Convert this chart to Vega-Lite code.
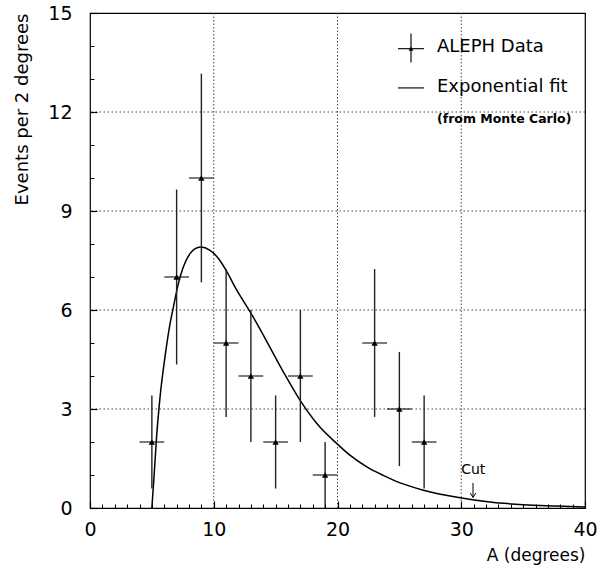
{
  "$schema": "https://vega.github.io/schema/vega-lite/v6.json",
  "width": 495,
  "height": 495,
  "autosize": {"type": "none"},
  "padding": {"left": 90, "top": 13, "right": 12, "bottom": 70},
  "background": "white",
  "config": {
    "font": "DejaVu Sans",
    "view": {"stroke": "black", "strokeWidth": 1.2, "fill": null},
    "axis": {
      "zindex": 2,
      "domain": false,
      "grid": false,
      "ticks": true,
      "tickColor": "#000000",
      "tickOpacity": 1,
      "tickWidth": 1,
      "labelColor": "black",
      "labelFont": "DejaVu Sans",
      "labelFontSize": 19,
      "labelOverlap": false,
      "labelBound": false,
      "labelFlush": false,
      "titleColor": "black",
      "titleFont": "DejaVu Sans",
      "titleFontWeight": "normal"
    }
  },
  "resolve": {"axis": {"x": "independent", "y": "independent"}},
  "datasets": {
    "aleph": [
      {"x": 5, "y": 2, "xlo": 4, "xhi": 6, "ylo": 0.59, "yhi": 3.41},
      {"x": 7, "y": 7, "xlo": 6, "xhi": 8, "ylo": 4.35, "yhi": 9.65},
      {"x": 9, "y": 10, "xlo": 8, "xhi": 10, "ylo": 6.84, "yhi": 13.16},
      {"x": 11, "y": 5, "xlo": 10, "xhi": 12, "ylo": 2.76, "yhi": 7.24},
      {"x": 13, "y": 4, "xlo": 12, "xhi": 14, "ylo": 2, "yhi": 6},
      {"x": 15, "y": 2, "xlo": 14, "xhi": 16, "ylo": 0.59, "yhi": 3.41},
      {"x": 17, "y": 4, "xlo": 16, "xhi": 18, "ylo": 2, "yhi": 6},
      {"x": 19, "y": 1, "xlo": 18, "xhi": 20, "ylo": 0, "yhi": 2},
      {"x": 23, "y": 5, "xlo": 22, "xhi": 24, "ylo": 2.76, "yhi": 7.24},
      {"x": 25, "y": 3, "xlo": 24, "xhi": 26, "ylo": 1.27, "yhi": 4.73},
      {"x": 27, "y": 2, "xlo": 26, "xhi": 28, "ylo": 0.59, "yhi": 3.41}
    ],
    "fit": [
      {"x": 5, "y": 0}, {"x": 5.2, "y": 1.1}, {"x": 5.38, "y": 2.15}, {"x": 5.66, "y": 3.36},
      {"x": 6.06, "y": 4.58}, {"x": 6.47, "y": 5.59}, {"x": 6.74, "y": 6.09}, {"x": 7.14, "y": 6.8},
      {"x": 7.54, "y": 7.3}, {"x": 8.08, "y": 7.71}, {"x": 8.5, "y": 7.86}, {"x": 8.94, "y": 7.91},
      {"x": 9.7, "y": 7.81}, {"x": 10.38, "y": 7.56}, {"x": 11.0, "y": 7.2}, {"x": 11.86, "y": 6.6},
      {"x": 12.93, "y": 5.95}, {"x": 13.74, "y": 5.42}, {"x": 14.28, "y": 5.05}, {"x": 15.63, "y": 4.12},
      {"x": 16.98, "y": 3.26}, {"x": 18.33, "y": 2.56}, {"x": 19.95, "y": 1.95}, {"x": 21, "y": 1.6},
      {"x": 22.4, "y": 1.24}, {"x": 23.7, "y": 0.99}, {"x": 25.06, "y": 0.76}, {"x": 26.94, "y": 0.54},
      {"x": 29.9, "y": 0.31}, {"x": 32.3, "y": 0.18}, {"x": 35, "y": 0.1}, {"x": 37.7, "y": 0.06},
      {"x": 40, "y": 0.03}
    ],
    "vgrid": [{"x": 10}, {"x": 20}, {"x": 30}],
    "hgrid": [{"y": 3}, {"y": 6}, {"y": 9}, {"y": 12}],
    "legendCross": [{"x": 25.94, "y": 13.92, "xlo": 24.89, "xhi": 26.99, "ylo": 13.5, "yhi": 14.38}],
    "legendLine": [{"xlo": 24.89, "xhi": 26.99, "y": 12.73}],
    "legendText": [
      {"x": 28.04, "y": 13.96, "label": "ALEPH Data"},
      {"x": 28.04, "y": 12.76, "label": "Exponential fit"}
    ],
    "legendNote": [{"x": 28.04, "y": 11.78, "label": "(from Monte Carlo)"}],
    "cutText": [{"x": 30.97, "y": 1.16, "label": "Cut"}],
    "cutArrow": [{"x": 30.95, "ylo": 0.32, "yhi": 0.76}]
  },
  "layer": [
    {
      "data": {"name": "vgrid"},
      "mark": {"type": "rule", "color": "#444", "strokeDash": [1.5, 2], "strokeWidth": 1},
      "encoding": {
        "x": {
          "field": "x", "type": "quantitative",
          "scale": {"domain": [0, 40], "nice": false, "zero": false},
          "axis": {
            "orient": "bottom",
            "offset": -7,
            "zindex": 2,
            "title": "A (degrees)",
            "titleFontSize": 17,
            "titleAnchor": "end",
            "titleAlign": "right",
            "titleBaseline": "middle",
            "titleX": 495,
            "titleY": 54,
            "values": [0, 10, 20, 30, 40],
            "labelPadding": 12,
            "labelAngle": 0,
            "ticks": true,
            "tickSize": 7,
            "tickWidth": 1.2
          }
        }
      }
    },
    {
      "data": {"name": "hgrid"},
      "mark": {"type": "rule", "color": "#444", "strokeDash": [1.5, 2.5], "strokeWidth": 1},
      "encoding": {
        "y": {
          "field": "y", "type": "quantitative",
          "scale": {"domain": [0, 15], "nice": false, "zero": false},
          "axis": {
            "orient": "left",
            "offset": -7,
            "zindex": 2,
            "title": "Events per 2 degrees",
            "titleFontSize": 18,
            "titleAngle": -90,
            "titleAnchor": "end",
            "titleAlign": "right",
            "titleBaseline": "middle",
            "titleX": -75,
            "titleY": 0,
            "values": [0, 3, 6, 9, 12, 15],
            "labelPadding": 18,
            "ticks": true,
            "tickSize": 7,
            "tickWidth": 1.2
          }
        }
      }
    },
    {
      "data": {"name": "fit"},
      "mark": {"type": "line", "color": "black", "strokeWidth": 1.5, "interpolate": "monotone", "clip": true},
      "encoding": {
        "x": {
          "field": "x", "type": "quantitative",
          "axis": {
            "orient": "bottom",
            "offset": -4,
            "zindex": 2,
            "title": null,
            "labels": false,
            "values": [1,2,3,4,5,6,7,8,9,11,12,13,14,15,16,17,18,19,21,22,23,24,25,26,27,28,29,31,32,33,34,35,36,37,38,39],
            "ticks": true,
            "tickSize": 4
          }
        },
        "y": {
          "field": "y", "type": "quantitative",
          "axis": {
            "orient": "left",
            "offset": -4,
            "zindex": 2,
            "title": null,
            "labels": false,
            "values": [1,2,4,5,7,8,10,11,13,14],
            "ticks": true,
            "tickSize": 4
          }
        }
      }
    },
    {
      "data": {"name": "aleph"},
      "mark": {"type": "rule", "color": "#222", "strokeWidth": 1.4},
      "encoding": {
        "x": {"field": "x", "type": "quantitative", "axis": null},
        "y": {"field": "ylo", "type": "quantitative", "axis": null},
        "y2": {"field": "yhi"}
      }
    },
    {
      "data": {"name": "aleph"},
      "mark": {"type": "rule", "color": "#222", "strokeWidth": 1.2},
      "encoding": {
        "x": {"field": "xlo", "type": "quantitative", "axis": null},
        "x2": {"field": "xhi"},
        "y": {"field": "y", "type": "quantitative", "axis": null}
      }
    },
    {
      "data": {"name": "aleph"},
      "mark": {"type": "point", "shape": "triangle-up", "filled": true, "color": "black", "size": 40, "opacity": 1},
      "encoding": {
        "x": {"field": "x", "type": "quantitative", "axis": null},
        "y": {"field": "y", "type": "quantitative", "axis": null}
      }
    },
    {
      "data": {"name": "legendCross"},
      "mark": {"type": "rule", "color": "#222", "strokeWidth": 1.3},
      "encoding": {
        "x": {"field": "xlo", "type": "quantitative", "axis": null},
        "x2": {"field": "xhi"},
        "y": {"field": "y", "type": "quantitative", "axis": null}
      }
    },
    {
      "data": {"name": "legendCross"},
      "mark": {"type": "rule", "color": "#222", "strokeWidth": 1.3},
      "encoding": {
        "x": {"field": "x", "type": "quantitative", "axis": null},
        "y": {"field": "ylo", "type": "quantitative", "axis": null},
        "y2": {"field": "yhi"}
      }
    },
    {
      "data": {"name": "legendCross"},
      "mark": {"type": "point", "shape": "triangle-up", "filled": true, "color": "black", "size": 22, "opacity": 1},
      "encoding": {
        "x": {"field": "x", "type": "quantitative", "axis": null},
        "y": {"field": "y", "type": "quantitative", "axis": null}
      }
    },
    {
      "data": {"name": "legendLine"},
      "mark": {"type": "rule", "color": "#222", "strokeWidth": 1.3},
      "encoding": {
        "x": {"field": "xlo", "type": "quantitative", "axis": null},
        "x2": {"field": "xhi"},
        "y": {"field": "y", "type": "quantitative", "axis": null}
      }
    },
    {
      "data": {"name": "legendText"},
      "mark": {"type": "text", "align": "left", "baseline": "middle", "fontSize": 18, "font": "DejaVu Sans", "color": "black"},
      "encoding": {
        "x": {"field": "x", "type": "quantitative", "axis": null},
        "y": {"field": "y", "type": "quantitative", "axis": null},
        "text": {"field": "label"}
      }
    },
    {
      "data": {"name": "legendNote"},
      "mark": {"type": "text", "align": "left", "baseline": "middle", "fontSize": 12.5, "fontWeight": "bold", "font": "DejaVu Sans", "color": "black"},
      "encoding": {
        "x": {"field": "x", "type": "quantitative", "axis": null},
        "y": {"field": "y", "type": "quantitative", "axis": null},
        "text": {"field": "label"}
      }
    },
    {
      "data": {"name": "cutText"},
      "mark": {"type": "text", "align": "center", "baseline": "middle", "fontSize": 14, "font": "DejaVu Sans", "color": "black"},
      "encoding": {
        "x": {"field": "x", "type": "quantitative", "axis": null},
        "y": {"field": "y", "type": "quantitative", "axis": null},
        "text": {"field": "label"}
      }
    },
    {
      "data": {"name": "cutArrow"},
      "mark": {"type": "rule", "color": "black", "strokeWidth": 1},
      "encoding": {
        "x": {"field": "x", "type": "quantitative", "axis": null},
        "y": {"field": "ylo", "type": "quantitative", "axis": null},
        "y2": {"field": "yhi"}
      }
    },
    {
      "data": {"name": "cutArrow"},
      "mark": {"type": "point", "shape": "M -1 -1.6 L 0 0 L 1 -1.6", "filled": false, "color": "black", "strokeWidth": 1, "size": 30, "opacity": 1},
      "encoding": {
        "x": {"field": "x", "type": "quantitative", "axis": null},
        "y": {"field": "ylo", "type": "quantitative", "axis": null}
      }
    }
  ]
}
